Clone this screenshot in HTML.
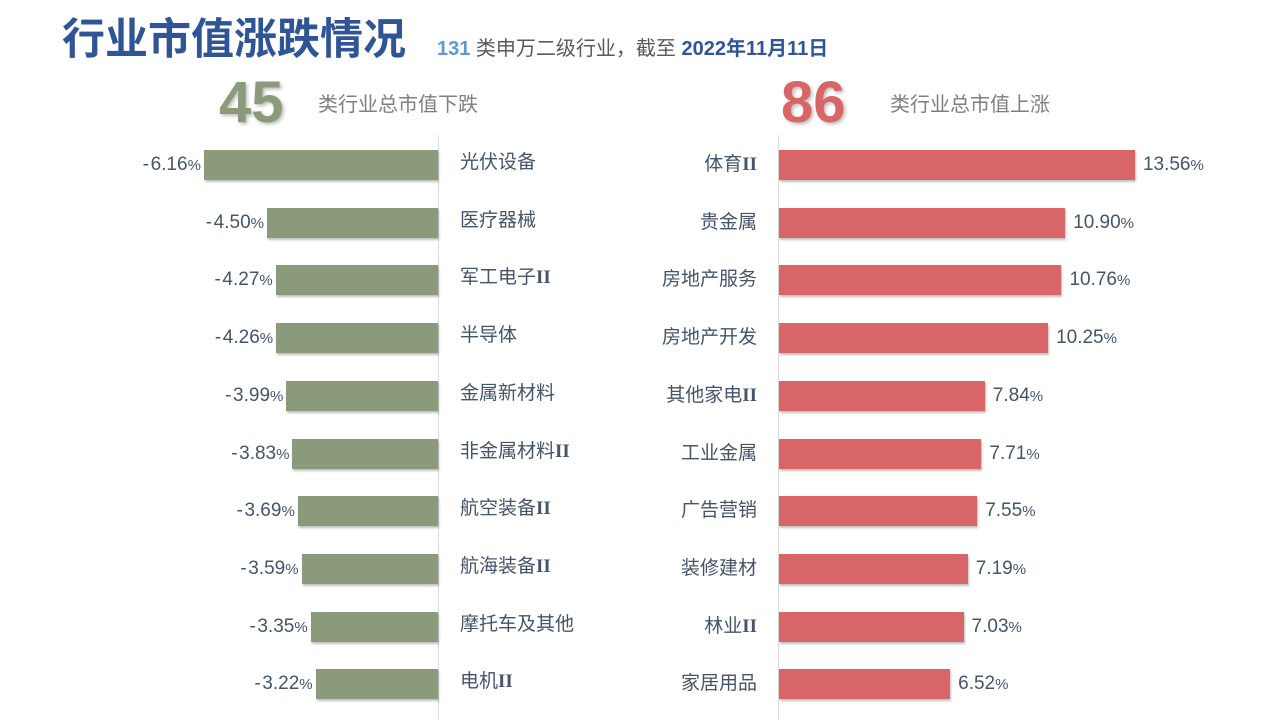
<!DOCTYPE html>
<html><head><meta charset="utf-8">
<style>
body{margin:0;width:1280px;height:720px;background:#fff;overflow:hidden;position:relative;font-family:"Liberation Sans","Noto Sans CJK SC",sans-serif;}
.a{position:absolute;white-space:nowrap;}
.bar{position:absolute;height:30px;box-shadow:1px 2px 2px rgba(0,0,0,0.25);}
.val{position:absolute;font-size:19px;color:#44546A;line-height:30px;}
.cat{position:absolute;font-size:19px;color:#44546A;line-height:30px;}
</style></head><body>
<div class="a" style="left:62px;top:13px;font-size:43px;font-weight:bold;color:#2F5597;line-height:54px;">行业市值涨跌情况</div>
<div class="a" style="left:437px;top:36px;font-size:20px;color:#595959;line-height:26px;"><b style="color:#5B9BD5">131</b> 类申万二级行业，截至 <b style="color:#2F5597">2022年11月11日</b></div>
<div class="a" style="left:219px;top:70px;font-size:58px;font-weight:bold;color:#8A9A7B;line-height:66px;text-shadow:2px 2px 3px rgba(0,0,0,0.25)">45</div>
<div class="a" style="left:318px;top:92px;font-size:20px;color:#7F7F7F;line-height:26px;">类行业总市值下跌</div>
<div class="a" style="left:781px;top:70px;font-size:58px;font-weight:bold;color:#D96666;line-height:66px;text-shadow:2px 2px 3px rgba(0,0,0,0.25)">86</div>
<div class="a" style="left:890px;top:92px;font-size:20px;color:#7F7F7F;line-height:26px;">类行业总市值上涨</div>
<div class="a" style="left:438px;top:135px;width:1px;height:585px;background:#D9D9D9"></div>
<div class="a" style="left:778px;top:135px;width:1px;height:585px;background:#D9D9D9"></div>
<script>
const downCats=["光伏设备","医疗器械","军工电子Ⅱ","半导体","金属新材料","非金属材料Ⅱ","航空装备Ⅱ","航海装备Ⅱ","摩托车及其他","电机Ⅱ"];
const downVals=[-6.16,-4.50,-4.27,-4.26,-3.99,-3.83,-3.69,-3.59,-3.35,-3.22];
const upCats=["体育Ⅱ","贵金属","房地产服务","房地产开发","其他家电Ⅱ","工业金属","广告营销","装修建材","林业Ⅱ","家居用品"];
const upVals=[13.56,10.90,10.76,10.25,7.84,7.71,7.55,7.19,7.03,6.52];
const leftZero=438, rightZero=779, leftScale=38, rightScale=26.25;
function rowY(i){return 150+i*57.7;}
function add(cls,style,html){const d=document.createElement('div');d.className=cls;Object.assign(d.style,style);if(html!==undefined)d.innerHTML=html;document.body.appendChild(d);return d;}
function fmtCat(s){return s.replace('Ⅱ','<b style="font-family:\'Liberation Serif\',serif;font-weight:bold">II</b>');}
function fmtVal(v){return v.toFixed(2)+'<span style="font-size:15px">%</span>';}
downVals.forEach((v,i)=>{
  const w=Math.abs(v)*leftScale,y=rowY(i);
  const b=add('bar',{left:(leftZero-w)+'px',top:y+'px',width:w+'px',background:'#8A9A7B'});
  
  
  const l=add('val',{right:(1280-(leftZero-w)+3)+'px',top:y+'px'},fmtVal(v).replace('-','-&#8202;'));
  
  
  const c=add('cat',{left:'460px',top:(y-2)+'px'},fmtCat(downCats[i]));
  
  
});
upVals.forEach((v,i)=>{
  const w=v*rightScale,y=rowY(i);
  const b=add('bar',{left:rightZero+'px',top:y+'px',width:w+'px',background:'#D96666'});
  
  
  const l=add('val',{left:(rightZero+w+8)+'px',top:y+'px'},fmtVal(v));
  
  
  const c=add('cat',{right:(1280-757)+'px',top:y+'px'},fmtCat(upCats[i]));
  
  
});
</script>
</body></html>
